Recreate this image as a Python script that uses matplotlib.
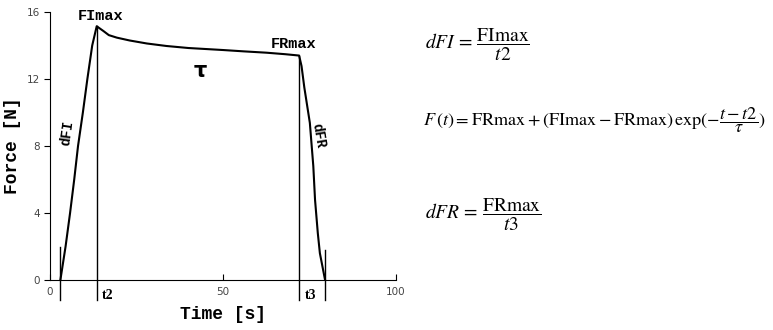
import matplotlib
matplotlib.use("Agg")
import matplotlib.pyplot as plt

# force curve
rise_t = [3, 4.5, 5.8, 7, 8.1, 9.5, 10.8, 12.2, 13.5]
rise_f = [0, 2, 4, 6, 8, 10, 12, 14, 15.15]
decay_t = [15.4, 17, 19.3, 23, 28, 33.7, 40, 50, 56, 62.6, 68, 72]
decay_f = [14.87, 14.62, 14.47, 14.3, 14.12, 13.97, 13.85, 13.73, 13.65, 13.57, 13.48, 13.4]
fall_t = [72.7, 73.5, 75.1, 76.1, 76.6, 77.4, 78, 79.5]
fall_f = [12.77, 11.5, 9.38, 6.8, 4.79, 2.8, 1.6, 0]

t_start = 3
t2 = 13.5
t3 = 72
t_end = 79.5
fi_max = 15.15
fr_max = 13.4

plt.rcParams['mathtext.fontset'] = 'stix'

fig = plt.figure(figsize=(7.73, 3.3), dpi=100)
ax = fig.add_axes([50 / 773, 1 - 280 / 330, 346 / 773, 268 / 330])

t = rise_t + decay_t + fall_t
f = rise_f + decay_f + fall_f
ax.plot(t, f, color="black", lw=1.5)

# marker lines, running below the axis
ax.plot([t_start, t_start], [-1.2, 2.0], color="black", lw=1, clip_on=False)
ax.plot([t_end, t_end], [-1.2, 1.8], color="black", lw=1, clip_on=False)
ax.plot([t2, t2], [-1.2, fi_max], color="black", lw=1, clip_on=False)
ax.plot([t3, t3], [-1.2, fr_max], color="black", lw=1, clip_on=False)

ax.set_xlim(0, 100)
ax.set_ylim(0, 16)
ax.set_xticks([0, 50, 100])
ax.set_yticks([0, 4, 8, 12, 16])
ax.spines['top'].set_visible(False)
ax.spines['right'].set_visible(False)
ax.tick_params(axis='x', direction='in', length=4, labelsize=7.5, labelcolor="#444444", pad=5)
ax.tick_params(axis='y', direction='out', length=4, labelsize=7.5, labelcolor="#444444")

mono = dict(family="Liberation Mono", weight="bold")
ax.set_xlabel("Time [s]", fontsize=13, **mono)
ax.set_ylabel("Force [N]", fontsize=13, **mono)
ax.xaxis.set_label_coords(0.5, (280 - 306) / 268)
ax.yaxis.set_label_coords((21 - 50) / 346, 0.5)

ax.text(14.5, 15.75, "FImax", fontsize=11, ha="center", va="center", **mono)
ax.text(70.4, 14.07, "FRmax", fontsize=11, ha="center", va="center", **mono)
ax.text(43.4, 12.5, "τ", fontsize=15, weight="bold", ha="center", va="center")
ax.text(4.9, 8.8, "dFI", fontsize=10, rotation=82, ha="center", va="center", **mono)
ax.text(77.5, 8.6, "dFR", fontsize=10, rotation=-80, ha="center", va="center", **mono)

serif = dict(family="Liberation Serif", weight="bold")
ax.text(t2 + 1.6, -0.55, "t2", fontsize=10, ha="left", va="top", clip_on=False, **serif)
ax.text(t3 + 1.6, -0.55, "t3", fontsize=10, ha="left", va="top", clip_on=False, **serif)

fig.text(425 / 773, 1 - 45 / 330, r"$dFI\,=\,\dfrac{\mathrm{FImax}}{t2}$", fontsize=14, ha="left", va="center")
fig.text(423 / 773, 1 - 120 / 330,
         r"$F\,(t) = \mathrm{FRmax} + (\mathrm{FImax} - \mathrm{FRmax})\,\mathrm{exp}(-\dfrac{t-t2}{\tau})$",
         fontsize=13.1, ha="left", va="center")
fig.text(425 / 773, 1 - 215 / 330, r"$dFR\,=\,\dfrac{\mathrm{FRmax}}{t3}$", fontsize=14, ha="left", va="center")

fig.savefig("out.png", dpi=100)
